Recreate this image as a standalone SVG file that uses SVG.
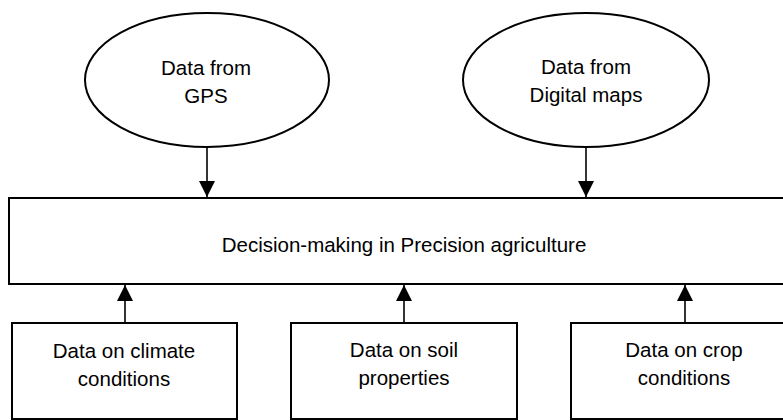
<svg xmlns="http://www.w3.org/2000/svg" width="783" height="420" viewBox="0 0 783 420">
  <style>
    .shape { fill: #ffffff; stroke: #000000; stroke-width: 2; }
    .label { font-family: "Liberation Sans", Arial, sans-serif; font-size: 20.5px; fill: #000000; text-anchor: middle; }
    .link { stroke: #000000; stroke-width: 1.6; fill: none; marker-end: url(#arrow); }
  </style>
  <defs>
    <marker id="arrow" viewBox="0 0 16 16" refX="16" refY="8" markerWidth="16" markerHeight="16" markerUnits="userSpaceOnUse" orient="auto">
      <path d="M0,0 L16,8 L0,16 Z" fill="#000000"/>
    </marker>
  </defs>

  <rect width="783" height="420" fill="#ffffff"/>

  <!-- data sources at the top -->
  <g id="gps">
    <ellipse class="shape" cx="207" cy="80" rx="122" ry="67"/>
    <text class="label" x="206" y="75">Data from</text>
    <text class="label" x="206" y="103">GPS</text>
  </g>
  <g id="digital-maps">
    <ellipse class="shape" cx="586" cy="80" rx="123" ry="67"/>
    <text class="label" x="586" y="74">Data from</text>
    <text class="label" x="586" y="102">Digital maps</text>
  </g>

  <!-- central decision block -->
  <g id="decision">
    <rect class="shape" x="9" y="198" width="790" height="86"/>
    <text class="label" x="404" y="252">Decision-making in Precision agriculture</text>
  </g>

  <!-- field data inputs at the bottom -->
  <g id="climate">
    <rect class="shape" x="12" y="323" width="225" height="96"/>
    <text class="label" x="124" y="358">Data on climate</text>
    <text class="label" x="124" y="386">conditions</text>
  </g>
  <g id="soil">
    <rect class="shape" x="291" y="323" width="226" height="96"/>
    <text class="label" x="404" y="357">Data on soil</text>
    <text class="label" x="404" y="385">properties</text>
  </g>
  <g id="crop">
    <rect class="shape" x="571" y="323" width="226" height="96"/>
    <text class="label" x="684" y="357">Data on crop</text>
    <text class="label" x="684" y="385">conditions</text>
  </g>

  <!-- connectors -->
  <g id="connectors">
    <line class="link" x1="207" y1="147" x2="207" y2="197"/>
    <line class="link" x1="586" y1="147" x2="586" y2="197"/>
    <line class="link" x1="125" y1="322" x2="125" y2="285"/>
    <line class="link" x1="404" y1="322" x2="404" y2="285"/>
    <line class="link" x1="685" y1="322" x2="685" y2="285"/>
  </g>
</svg>
